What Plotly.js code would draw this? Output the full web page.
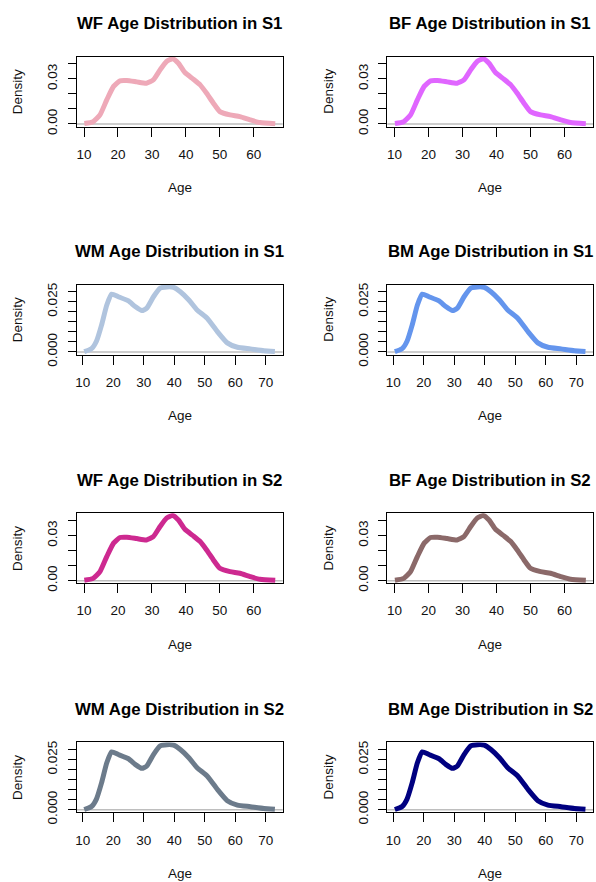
<!DOCTYPE html>
<html>
<head>
<meta charset="utf-8">
<script src="https://cdn.plot.ly/plotly-3.0.1.min.js"></script>
<style>html,body{margin:0;padding:0;background:#fff;}#chart{width:596px;height:882px;}</style>
</head>
<body>
<div id="chart"></div>
<script>
// Female age density (same estimate shape in all four female panels)
const femaleAge = [10.1, 12.7, 14.7, 16.7, 18.7, 20.6, 22.6, 25.5, 28.4, 30.4, 32.4, 34.3, 36.1, 37.8, 39.7, 42.2, 44.2, 46.1, 48.1, 50.0, 53.0, 55.9, 58.9, 61.8, 66.3];
const femaleDensity = [0.0003, 0.0015, 0.006, 0.016, 0.025, 0.0287, 0.0289, 0.028, 0.0271, 0.0293, 0.036, 0.0416, 0.0434, 0.0404, 0.0342, 0.0298, 0.026, 0.0204, 0.0138, 0.0082, 0.006, 0.0049, 0.0027, 0.0009, 0.0002];
// Male age density
const maleAge = [10.5, 12.9, 14.5, 16.2, 17.9, 19.5, 21.7, 25.0, 27.2, 29.4, 31.0, 33.2, 35.4, 37.6, 39.8, 42.0, 44.8, 47.5, 50.8, 54.1, 57.4, 60.7, 65.0, 69.4, 73.0];
const maleDensity = [0.0001, 0.0016, 0.0053, 0.0135, 0.0234, 0.0288, 0.0275, 0.0254, 0.0226, 0.0206, 0.0218, 0.0275, 0.0318, 0.0324, 0.0322, 0.030, 0.0259, 0.0209, 0.0168, 0.0102, 0.0045, 0.0023, 0.0015, 0.0006, 0.0002];

const panelTitles = ["WF Age Distribution in S1", "BF Age Distribution in S1",
                     "WM Age Distribution in S1", "BM Age Distribution in S1",
                     "WF Age Distribution in S2", "BF Age Distribution in S2",
                     "WM Age Distribution in S2", "BM Age Distribution in S2"];
const panelSex = ["F", "F", "M", "M", "F", "F", "M", "M"];
const panelColors = ["#EEA9B8", "#E066FF", "#B0C4DE", "#6495ED", "#CD2990", "#8B6969", "#6C7B8B", "#000080"];

const femaleXTicks = [10, 20, 30, 40, 50, 60];
const maleXTicks = [10, 20, 30, 40, 50, 60, 70];
const femaleYTicks = [0, 0.01, 0.02, 0.03, 0.04];
const femaleYLabels = ["0.00", "", "", "0.03", ""];
const maleYTicks = [0, 0.005, 0.01, 0.015, 0.02, 0.025, 0.03];
const maleYLabels = ["0.000", "", "", "", "", "0.025", ""];

const W = 596, H = 882;
const colLeft = [76.7, 387.3];
const boxW = 206;
const rowTop = [56.5, 284.5, 513.2, 742.3];
const boxH = 70;

const FONT = "Arial, 'Liberation Sans', Helvetica, sans-serif";
const data = [];
const layout = {
  width: W, height: H,
  margin: {l: 0, r: 0, t: 0, b: 0},
  paper_bgcolor: "#fff", plot_bgcolor: "#fff",
  showlegend: false,
  font: {family: FONT, size: 13, color: "#111"},
  annotations: [], shapes: []
};

for (let i = 0; i < 8; i++) {
  const row = Math.floor(i / 2), col = i % 2;
  const n = i + 1;
  const xa = "x" + (n === 1 ? "" : n), ya = "y" + (n === 1 ? "" : n);
  const xk = "xaxis" + (n === 1 ? "" : n), yk = "yaxis" + (n === 1 ? "" : n);
  const isF = panelSex[i] === "F";
  const x0 = colLeft[col], x1 = x0 + boxW;
  const top = rowTop[row], bot = top + boxH;

  data.push({
    type: "scatter", mode: "lines",
    x: isF ? femaleAge : maleAge,
    y: isF ? femaleDensity : maleDensity,
    xaxis: xa, yaxis: ya,
    line: {color: panelColors[i], width: 5, shape: "spline", smoothing: 0.5},
    cliponaxis: true, hoverinfo: "skip"
  });

  layout[xk] = {
    domain: [x0 / W, x1 / W],
    anchor: ya,
    range: isF ? [7.85, 68.5] : [8.03, 75.57],
    tickvals: isF ? femaleXTicks : maleXTicks,
    ticktext: (isF ? femaleXTicks : maleXTicks).map(String),
    ticks: "outside", ticklen: 9, tickwidth: 1, tickcolor: "#000",
    ticklabelstandoff: 6,
    showline: true, linecolor: "#000", linewidth: 1, mirror: true,
    showgrid: false, zeroline: false,
    tickfont: {family: FONT, size: 13.5, color: "#111"},
    fixedrange: true
  };
  layout[yk] = {
    domain: [1 - bot / H, 1 - top / H],
    anchor: xa,
    range: isF ? [-0.0017, 0.0449] : [-0.0013, 0.0336],
    tickvals: isF ? femaleYTicks : maleYTicks,
    ticktext: isF ? femaleYLabels : maleYLabels,
    tickangle: -90,
    ticks: "outside", ticklen: 8, tickwidth: 1, tickcolor: "#000",
    ticklabelstandoff: 5,
    showline: true, linecolor: "#000", linewidth: 1, mirror: true,
    showgrid: false, zeroline: false,
    tickfont: {family: FONT, size: 13.5, color: "#111"},
    fixedrange: true
  };

  layout.shapes.push({
    type: "line", xref: xa + " domain", yref: ya,
    x0: 0, x1: 1, y0: 0, y1: 0,
    line: {color: "#BEBEBE", width: 1.5}, layer: "below"
  });

  layout.annotations.push({
    text: "<b>" + panelTitles[i] + "</b>",
    xref: "paper", yref: "paper",
    x: (x0 + x1) / 2 / W, y: 1 - (top - 33) / H,
    xanchor: "center", yanchor: "middle", showarrow: false,
    font: {family: FONT, size: 16.8, color: "#000"}
  });
  layout.annotations.push({
    text: "Age", xref: "paper", yref: "paper",
    x: (x0 + x1) / 2 / W, y: 1 - (bot + 61) / H,
    xanchor: "center", yanchor: "middle", showarrow: false,
    font: {family: FONT, size: 13.5, color: "#111"}
  });
  layout.annotations.push({
    text: "Density", xref: "paper", yref: "paper",
    x: (x0 - 59) / W, y: 1 - (top + boxH / 2) / H,
    xanchor: "center", yanchor: "middle", showarrow: false, textangle: -90,
    font: {family: FONT, size: 13.5, color: "#111"}
  });
}

Plotly.newPlot("chart", data, layout, {staticPlot: true, displayModeBar: false});
</script>
</body>
</html>
